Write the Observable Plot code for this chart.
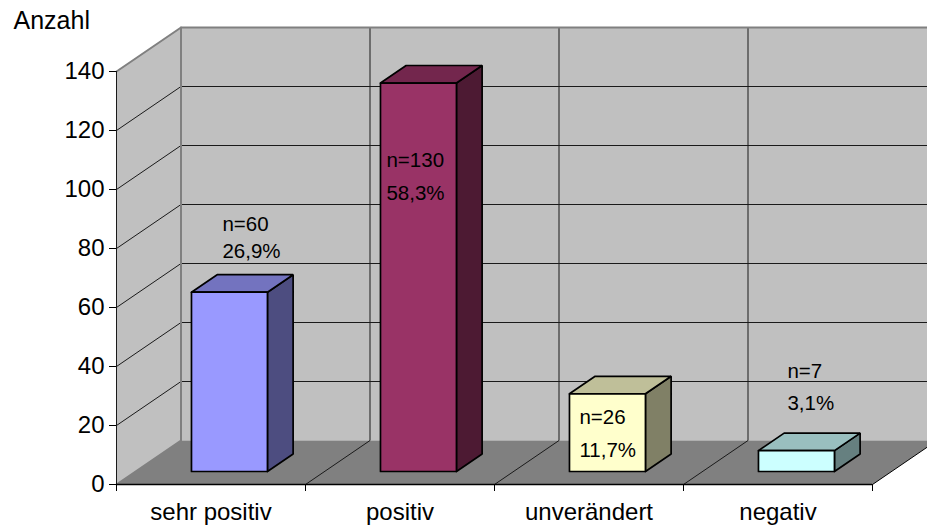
<!DOCTYPE html>
<html>
<head>
<meta charset="utf-8">
<script src="https://cdn.jsdelivr.net/npm/d3@7"></script>
<script src="https://cdn.jsdelivr.net/npm/@observablehq/plot@0.6"></script>
<style>
  html, body { margin: 0; padding: 0; background: #fff; overflow: hidden; }
  svg { display: block; }
</style>
</head>
<body>
<div id="chart"></div>
<script>
// Survey answers and their counts
const categories = ["sehr positiv", "positiv", "unverändert", "negativ"];
const counts = [60, 130, 26, 7];
const shares = ["26,9%", "58,3%", "11,7%", "3,1%"];
const yTicks = [0, 20, 40, 60, 80, 100, 120, 140];

// Colours of the bar faces
const frontColors = ["#9999FF", "#993366", "#FFFFCC", "#CCFFFF"];
const topColors = ["#7373BF", "#73264D", "#BFBF99", "#99BFBF"];
const sideColors = ["#4D4D80", "#4D1A33", "#808066", "#668080"];

// Label offsets from each bar's top-left front corner: [dx, first baseline, second baseline]
const labelOffsets = [[31, -61, -34], [6, 84, 117], [10, 30, 63], [29, -73, -41]];

const width = 927, height = 529;
const left = 116, zero = 484, top140 = 71, catStep = 189;
const xMax = (width - left) / catStep;
const unit = (zero - top140) / 140;

// Oblique projection: depth w (0 front, 1 back) shifts right and up in data units
const depthX = 64.5 / catStep, depthY = 44 / unit;
const P = (u, v, w = 0) => ({x: u + w * depthX, y: v + w * depthY});

// Box placement within one category slot and within the depth of the floor
const barStart = 0.296, barWidth = 0.402, wFront = 0.295, wBack = 0.693, barStretch = 1.013;

const closed = pts => [...pts, pts[0]];
const face = (pts, fill, stroke = "none", strokeWidth = 1) =>
  Plot.line(closed(pts), {x: "x", y: "y", fill, stroke, strokeWidth, strokeLinejoin: "miter"});
const path = (pts, stroke, strokeWidth = 1) =>
  Plot.line(pts, {x: "x", y: "y", stroke, strokeWidth});

const walls = [
  face([P(0, 0, 0), P(0, 0, 1), P(0, 140, 1), P(0, 140, 0)], "#C0C0C0"),
  face([P(0, 0, 1), P(4, 0, 1), P(4, 140, 1), P(0, 140, 1)], "#C0C0C0"),
  face([P(0, 0, 0), P(4, 0, 0), P(4, 0, 1), P(0, 0, 1)], "#808080")
];

const grid = [
  ...yTicks.slice(1, -1).map(v => path([P(0, v, 0), P(0, v, 1), P(4, v, 1)], "#1a1a1a")),
  ...[1, 2, 3].map(i => path([P(i, 0, 0), P(i, 0, 1), P(i, 140, 1)], "#1a1a1a")),
  path([P(4, 0, 0), P(4, 0, 1)], "#000"),
  path([P(0, 0, 0), P(0, 0, 1), P(0, 140, 1), P(4, 140, 1)], "#808080", 2),
  path([P(0, 140, 0), P(0, 140, 1)], "#808080", 2)
];

const bars = counts.flatMap((count, i) => {
  const a = i + barStart, b = a + barWidth, h = count * barStretch;
  const lift = wFront * depthY;
  const q = (u, v, w) => P(u, v, w);
  const front = [q(a, 0, wFront), q(b, 0, wFront), q(b, h, wFront), q(a, h, wFront)];
  const side = [q(b, 0, wFront), q(b, 0, wBack), q(b, h, wBack), q(b, h, wFront)];
  const roof = [q(a, h, wFront), q(b, h, wFront), q(b, h, wBack), q(a, h, wBack)];
  return [
    face(side, sideColors[i], "#000", 1.7),
    face(roof, topColors[i], "#000", 1.7),
    face(front, frontColors[i], "#000", 1.7)
  ];
});

const labels = counts.flatMap((count, i) => {
  const corner = P(i + barStart, count * barStretch, wFront);
  const [dx, dy1, dy2] = labelOffsets[i];
  const opts = {x: corner.x, y: corner.y, dx, textAnchor: "start", lineAnchor: "bottom", fontSize: 20.5, fill: "#000"};
  return [
    Plot.text([`n=${count}`], {...opts, text: d => d, dy: dy1}),
    Plot.text([shares[i]], {...opts, text: d => d, dy: dy2})
  ];
});

const chart = Plot.plot({
  width, height,
  marginLeft: left, marginBottom: height - zero, marginTop: 0, marginRight: 0,
  style: {fontFamily: "'Liberation Sans', Arial, sans-serif", background: "#fff", color: "#000"},
  x: {type: "linear", domain: [0, xMax], range: [left, width]},
  y: {type: "linear", domain: [0, 140], range: [zero, top140]},
  marks: [
    ...walls,
    ...grid,
    ...bars,
    ...labels,
    Plot.ruleX([0], {y1: 0, y2: 140, stroke: "#1a1a1a"}),
    Plot.ruleY([0], {x1: 0, x2: 4, stroke: "#000", strokeWidth: 1.3}),
    Plot.axisY({ticks: yTicks, tickSize: 7, tickPadding: 5, fontSize: 24, label: null, tickFormat: d => d}),
    Plot.axisX({ticks: [0, 1, 2, 3, 4], tickSize: 7, tickFormat: () => "", label: null}),
    Plot.axisX({
      ticks: categories.map((_, i) => i + 0.5), tickSize: 0, tickPadding: 18, fontSize: 24, label: null,
      tickFormat: d => categories[d - 0.5]
    }),
    Plot.text(["Anzahl"], {x: 0, y: 140, dx: -103, dy: -43, text: d => d, textAnchor: "start", lineAnchor: "bottom", fontSize: 25, fill: "#000"})
  ]
});
document.getElementById("chart").append(chart);
</script>
</body>
</html>
